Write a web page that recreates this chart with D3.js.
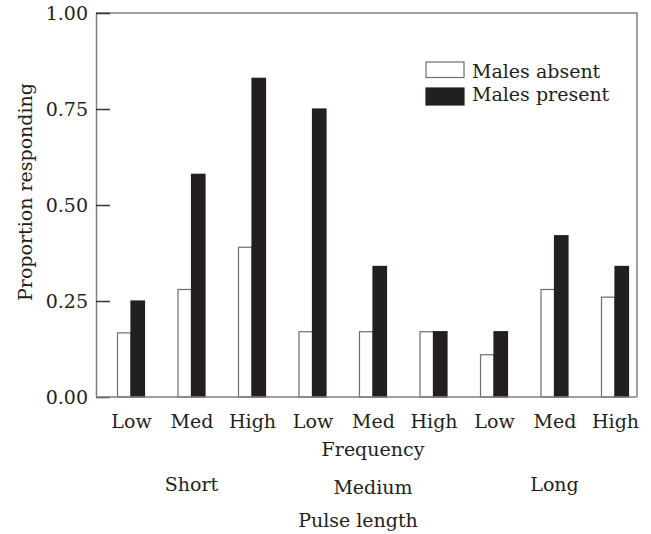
<!DOCTYPE html>
<html>
<head>
<meta charset="utf-8">
<script src="https://cdn.jsdelivr.net/npm/d3@7"></script>
<style>
  body { margin: 0; background: #fff; }
  text { font-family: "DejaVu Serif", serif; font-size: 19px; fill: #231f20; }
</style>
</head>
<body>
<div id="chart"></div>
<script>
// Chart data
var frequencies = ["Low", "Med", "High"];
var pulseLengths = ["Short", "Medium", "Long"];
var seriesNames = ["Males absent", "Males present"];
var malesAbsent = [0.167, 0.28, 0.39, 0.17, 0.17, 0.17, 0.11, 0.28, 0.26];
var malesPresent = [0.25, 0.58, 0.83, 0.75, 0.34, 0.17, 0.17, 0.42, 0.34];
var yTicks = [0, 0.25, 0.5, 0.75, 1.0];

// one key per bar group: pulse length x frequency
var groups = [];
pulseLengths.forEach(function(p) {
  frequencies.forEach(function(f) {
    groups.push({ pulse: p, freq: f, key: p + "-" + f });
  });
});
groups.forEach(function(g, i) {
  g.values = [malesAbsent[i], malesPresent[i]];
});

var svgWidth = 651;
var svgHeight = 534;

// plot box
var plotLeft = 96, plotRight = 637, plotTop = 13, plotBottom = 397;

var svg = d3.select("#chart")
  .append("svg")
  .attr("width", svgWidth)
  .attr("height", svgHeight);

var xScale = d3.scalePoint()
  .domain(groups.map(d => d.key))
  .range([131, 615]);

var xSub = d3.scaleBand()
  .domain(seriesNames)
  .range([-13.5, 13.5])
  .padding(0);

var yScale = d3.scaleLinear()
  .domain([0, 1])
  .range([plotBottom, plotTop]);

var colors = d3.scaleOrdinal()
  .domain(seriesNames)
  .range(["#ffffff", "#231f20"]);

// frame: top and right edges
svg.append("path")
  .attr("d", `M${plotLeft},${plotTop}H${plotRight}V${plotBottom}`)
  .attr("fill", "none")
  .attr("stroke", "#808080")
  .attr("stroke-width", 1.5);

// bars
var groupSel = svg.selectAll(".group")
  .data(groups)
  .enter()
  .append("g")
  .attr("class", "group")
  .attr("transform", d => `translate(${xScale(d.key)},0)`);

groupSel.selectAll("rect")
  .data(d => d.values.map((v, i) => ({ series: seriesNames[i], value: v })))
  .enter()
  .append("rect")
  .attr("x", d => xSub(d.series))
  .attr("y", d => yScale(d.value))
  .attr("width", xSub.bandwidth())
  .attr("height", d => plotBottom - yScale(d.value))
  .attr("fill", d => colors(d.series))
  .attr("stroke", d => d.series === "Males absent" ? "#6d6d6d" : "#231f20")
  .attr("stroke-width", 1.2);

// y axis with inward ticks
var leftAxis = d3.axisLeft(yScale)
  .tickValues(yTicks)
  .tickFormat(d3.format(".2f"))
  .tickSizeInner(-14)
  .tickSizeOuter(0)
  .tickPadding(8);

var yAxisG = svg.append("g")
  .attr("transform", `translate(${plotLeft},0)`)
  .call(leftAxis);
yAxisG.select(".domain").attr("stroke", "#808080").attr("stroke-width", 1.5);
yAxisG.selectAll(".tick line").attr("stroke", "#333").attr("stroke-width", 1.5);
yAxisG.selectAll("text").attr("font-family", null).attr("font-size", null);

// x axis (frequency labels)
var bottomAxis = d3.axisBottom(xScale)
  .tickFormat((d, i) => groups[i].freq)
  .tickSize(0)
  .tickPadding(17.5);

var xAxisG = svg.append("g")
  .attr("transform", `translate(0,${plotBottom})`)
  .call(bottomAxis);
xAxisG.select(".domain").remove();
xAxisG.selectAll("text").attr("font-family", null).attr("font-size", null);

svg.append("line")
  .attr("x1", plotLeft).attr("x2", plotRight)
  .attr("y1", plotBottom).attr("y2", plotBottom)
  .attr("stroke", "#808080")
  .attr("stroke-width", 1.5);

// axis titles
svg.append("text")
  .attr("x", xScale(groups[4].key))
  .attr("y", 456)
  .attr("text-anchor", "middle")
  .text("Frequency");

pulseLengths.forEach(function(p, i) {
  svg.append("text")
    .attr("x", xScale(groups[i * 3 + 1].key))
    .attr("y", i === 1 ? 494 : 491)
    .attr("text-anchor", "middle")
    .text(p);
});

svg.append("text")
  .attr("x", 358)
  .attr("y", 527)
  .attr("text-anchor", "middle")
  .text("Pulse length");

svg.append("text")
  .attr("transform", "translate(32,192) rotate(-90)")
  .attr("text-anchor", "middle")
  .text("Proportion responding");

// legend
var legend = svg.selectAll(".legend")
  .data(seriesNames)
  .enter()
  .append("g")
  .attr("class", "legend")
  .attr("transform", (d, i) => `translate(426,${i === 0 ? 62 : 88})`);

legend.append("rect")
  .attr("width", 38)
  .attr("height", (d, i) => i === 0 ? 15.5 : 17)
  .attr("fill", d => colors(d))
  .attr("stroke", d => d === "Males absent" ? "#6d6d6d" : "#231f20")
  .attr("stroke-width", 1.2);

legend.append("text")
  .attr("x", 46)
  .attr("y", (d, i) => i === 0 ? 15.5 : 12.5)
  .text(d => d);
</script>
</body>
</html>
